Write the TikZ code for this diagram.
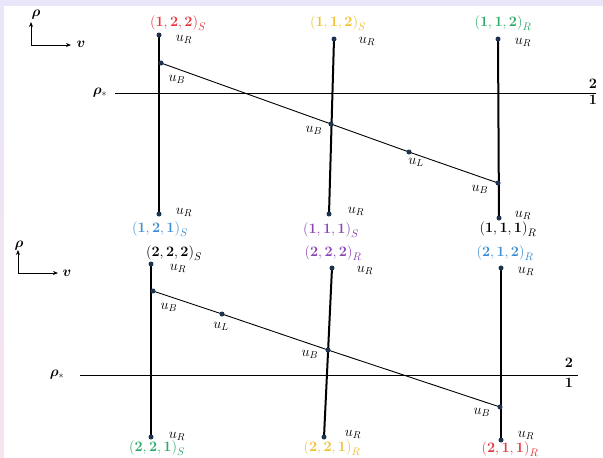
\documentclass[tikz,border=0pt]{standalone}
\usepackage{amsmath,bm}
\usetikzlibrary{arrows.meta}
\definecolor{lav}{HTML}{E8E6F8}
\definecolor{pinkish}{HTML}{F6E4EE}
\definecolor{cred}{HTML}{E5373D}
\definecolor{cyel}{HTML}{F0C030}
\definecolor{cgrn}{HTML}{2BAA6A}
\definecolor{cblu}{HTML}{3B8ED3}
\definecolor{cpur}{HTML}{8A45B5}
\definecolor{dotc}{HTML}{1E3350}
\pgfdeclarelayer{back}
\pgfdeclarelayer{bg}
\pgfsetlayers{back,bg,main}
\begin{document}
\begin{tikzpicture}[x=1pt,y=-1pt,
  pdot/.style={circle,fill=dotc,inner sep=0pt,minimum size=5pt},
  lbl/.style={inner sep=0pt,font=\fontsize{14}{16}\selectfont},
  tup/.style={inner sep=0pt,font=\fontsize{15}{17}\selectfont},
  vline/.style={line width=2pt,black},
  hline/.style={line width=0.9pt,black},
  axarrow/.style={line width=0.9pt,-{Stealth[length=5pt,width=4pt]}}]
% background
\begin{pgfonlayer}{back}
\fill[lav] (0,0) rectangle (603,458);
\shade[top color=lav,bottom color=pinkish] (0,0) rectangle (4,458);
\fill[white] (4,6) rectangle (603,458);
\end{pgfonlayer}
\useasboundingbox (0,0) rectangle (603,458);

% ================= top panel =================
\coordinate (AO) at (31,45);
\coordinate (AY) at (31,22);
\coordinate (AX) at (71,45);
\draw[axarrow] (AO) -- (AY);
\draw[axarrow] (AO) -- (AX);
\node[lbl] (Arho) at (36,15) {$\bm{\rho}$};
\node[lbl] (Av) at (81,44) {$\bm{v}$};

\node[pdot] (A1t) at (159,35) {};
\node[pdot] (A1b) at (159,214) {};
\node[pdot] (A2t) at (334,39) {};
\node[pdot] (A2b) at (329,214) {};
\node[pdot] (A3t) at (498,39) {};
\node[pdot] (A3b) at (499,218) {};
\node[pdot] (AB1) at (161,63) {};
\node[pdot] (AB2) at (331,124) {};
\node[pdot] (AL) at (409,152) {};
\node[pdot] (AB3) at (498,183) {};
\coordinate (AH1) at (115,93);
\coordinate (AH2) at (596,93);

\begin{pgfonlayer}{bg}
\draw[hline] (AH1) -- (AH2);
\draw[vline] (A1t.center) -- (A1b.center);
\draw[vline] (A2t.center) -- (A2b.center);
\draw[vline] (A3t.center) -- (A3b.center);
\draw[hline] (AB1.center) -- (AB2.center) -- (AL.center) -- (AB3.center);
\end{pgfonlayer}

\node[tup,text=cred] (Al1) at (178,23) {$\mathbf{(1,2,2)}_S$};
\node[tup,text=cyel] (Al2) at (338,23) {$\mathbf{(1,1,2)}_S$};
\node[tup,text=cgrn] (Al3) at (503,23) {$\mathbf{(1,1,2)}_R$};
\node[tup,text=cblu] (Al4) at (160,229) {$\mathbf{(1,2,1)}_S$};
\node[tup,text=cpur] (Al5) at (331,230) {$\mathbf{(1,1,1)}_S$};
\node[tup] (Al6) at (508,229) {$\mathbf{(1,1,1)}_R$};

\node[lbl] (Au1) at (184,39) {$u_R$};
\node[lbl] (Au2) at (367,41) {$u_R$};
\node[lbl] (Au3) at (523,42) {$u_R$};
\node[lbl] (Au4) at (184,212) {$u_R$};
\node[lbl] (Au5) at (356,211) {$u_R$};
\node[lbl] (Au6) at (523,215) {$u_R$};
\node[lbl] (AuB1) at (177,79) {$u_B$};
\node[lbl] (AuB2) at (314,130) {$u_B$};
\node[lbl] (AuL) at (416,162) {$u_L$};
\node[lbl] (AuB3) at (480,189) {$u_B$};
\node[lbl] (Ars) at (100,93) {$\bm{\rho}_*$};
\node[lbl] (A2) at (593,84) {$\mathbf{2}$};
\node[lbl] (A1) at (593,100) {$\mathbf{1}$};

% ================= bottom panel =================
\coordinate (BO) at (18,273);
\coordinate (BY) at (18,250);
\coordinate (BX) at (58,273);
\draw[axarrow] (BO) -- (BY);
\draw[axarrow] (BO) -- (BX);
\node[lbl] (Brho) at (19,246) {$\bm{\rho}$};
\node[lbl] (Bv) at (67,273) {$\bm{v}$};

\node[pdot] (B1t) at (151,264) {};
\node[pdot] (B1b) at (151,437) {};
\node[pdot] (B2t) at (332,268) {};
\node[pdot] (B2b) at (324,437) {};
\node[pdot] (B3t) at (501,268) {};
\node[pdot] (B3b) at (501,440) {};
\node[pdot] (BB1) at (153,291) {};
\node[pdot] (BL) at (222,314) {};
\node[pdot] (BB2) at (328,350) {};
\node[pdot] (BB3) at (500,407) {};
\coordinate (BH1) at (80,375);
\coordinate (BH2) at (578,375);

\begin{pgfonlayer}{bg}
\draw[hline] (BH1) -- (BH2);
\draw[vline] (B1t.center) -- (B1b.center);
\draw[vline] (B2t.center) -- (B2b.center);
\draw[vline] (B3t.center) -- (B3b.center);
\draw[hline] (BB1.center) -- (BL.center) -- (BB2.center) -- (BB3.center);
\end{pgfonlayer}

\node[tup] (Bl1) at (174,253) {$\mathbf{(2,2,2)}_S$};
\node[tup,text=cpur] (Bl2) at (333,253) {$\mathbf{(2,2,2)}_R$};
\node[tup,text=cblu] (Bl3) at (505,253) {$\mathbf{(2,1,2)}_R$};
\node[tup,text=cgrn] (Bl4) at (157,448) {$\mathbf{(2,2,1)}_S$};
\node[tup,text=cyel] (Bl5) at (332,448) {$\mathbf{(2,2,1)}_R$};
\node[tup,text=cred] (Bl6) at (510,449) {$\mathbf{(2,1,1)}_R$};

\node[lbl] (Bu1) at (178,268) {$u_R$};
\node[lbl] (Bu2) at (365,270) {$u_R$};
\node[lbl] (Bu3) at (526,271) {$u_R$};
\node[lbl] (Bu4) at (177,436) {$u_R$};
\node[lbl] (Bu5) at (353,434) {$u_R$};
\node[lbl] (Bu6) at (526,435) {$u_R$};
\node[lbl] (BuB1) at (169,307) {$u_B$};
\node[lbl] (BuL) at (221,326) {$u_L$};
\node[lbl] (BuB2) at (310,354) {$u_B$};
\node[lbl] (BuB3) at (482,412) {$u_B$};
\node[lbl] (Brs) at (57,375) {$\bm{\rho}_*$};
\node[lbl] (B2) at (569,363) {$\mathbf{2}$};
\node[lbl] (B1) at (569,383) {$\mathbf{1}$};
\end{tikzpicture}
\end{document}
